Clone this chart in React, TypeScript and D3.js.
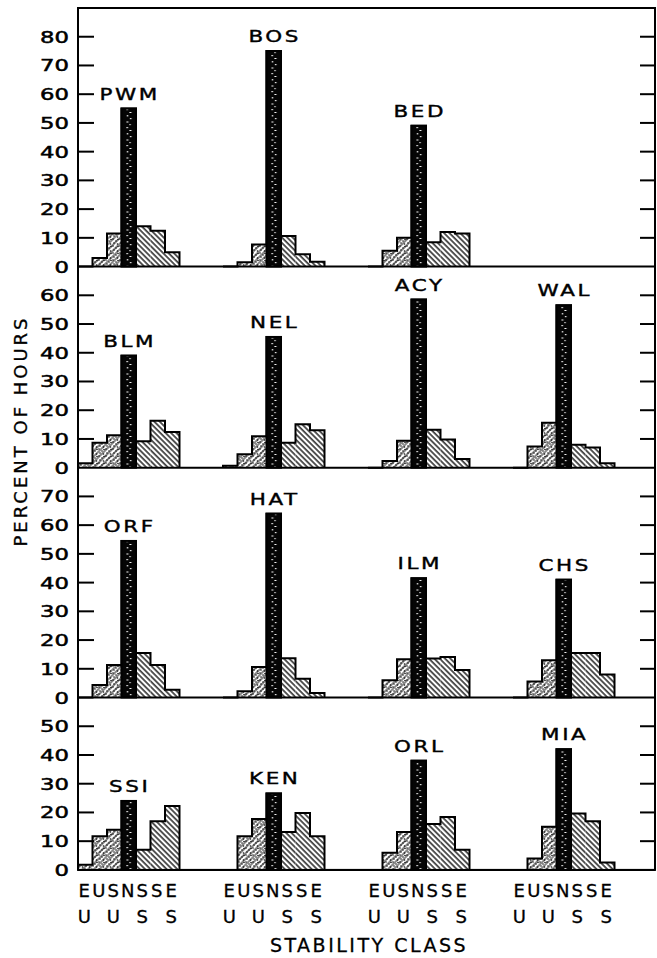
import * as d3 from 'd3';
import { useEffect, useRef } from 'react';

// stability classes, read as two stacked letters under each bar
const CLASSES = ['EU', 'U', 'SU', 'N', 'SS', 'S', 'ES'];

// percent of hours per class, EU..ES
const PWM = [0, 3, 11.5, 55, 14, 12.5, 5];
const BOS = [0, 1.5, 7.7, 75, 10.6, 4.3, 1.7];
const BED = [0, 5.5, 10, 49, 8.5, 12, 11.5];
const BLM = [1.5, 8.7, 11.3, 39, 9.2, 16.3, 12.4];
const NEL = [0.7, 4.7, 10.9, 45.5, 8.7, 15.1, 13];
const ACY = [0, 2.3, 9.4, 58.5, 13.2, 9.8, 3];
const WAL = [0, 7.4, 15.6, 56.5, 8, 7, 1.5];
const ORF = [0, 4.4, 11.3, 54.5, 15.5, 11.3, 2.7];
const HAT = [0, 2.2, 10.6, 64, 13.7, 6.5, 1.6];
const ILM = [0, 6, 13.3, 41.5, 13.6, 14.1, 9.6];
const CHS = [0, 5.6, 13, 41, 15.5, 15.5, 8];
const SSI = [1.8, 11.7, 14, 24, 7, 16.9, 22.2];
const KEN = [0, 11.7, 17.7, 26.6, 13.2, 19.8, 11.7];
const ORL = [0, 6, 13.2, 38, 16, 18.4, 7];
const MIA = [0, 4, 15, 42, 19.6, 16.9, 2.6];

// rows of the figure, top to bottom; position in row = column slot
const ROWS: { name: string; values: number[] }[][] = [
    [{ name: 'PWM', values: PWM }, { name: 'BOS', values: BOS }, { name: 'BED', values: BED }],
    [{ name: 'BLM', values: BLM }, { name: 'NEL', values: NEL }, { name: 'ACY', values: ACY }, { name: 'WAL', values: WAL }],
    [{ name: 'ORF', values: ORF }, { name: 'HAT', values: HAT }, { name: 'ILM', values: ILM }, { name: 'CHS', values: CHS }],
    [{ name: 'SSI', values: SSI }, { name: 'KEN', values: KEN }, { name: 'ORL', values: ORL }, { name: 'MIA', values: MIA }],
];
const ROW_MAX = [90, 70, 80, 60];
const ROW_TICKS = [
    [0, 10, 20, 30, 40, 50, 60, 70, 80],
    [0, 10, 20, 30, 40, 50, 60],
    [0, 10, 20, 30, 40, 50, 60, 70],
    [0, 10, 20, 30, 40, 50],
];

const W = 657;
const H = 958;
const LEFT = 78;
const RIGHT = 655;
const TOP = 8;
const UNIT = 2.873; // px per percent, same in all rows
const SLOTS = 40; // 4 groups x (7 bars + 3 gap)
const SLOT_W = 14.5;
const TICK = 16;
const FONT = '"DejaVu Sans", sans-serif';

// white specks inside the dark N bar (hand placed in one tile)
const SPECKS = [
    [5, 1, 1.5, 1.2], [8, 4, 2, 1], [5.5, 7, 1.2, 1.5], [8.5, 10, 1.5, 1.2],
    [5, 13.5, 2, 1], [8, 16, 1.2, 1.2],
];

export default function App() {
    const svgRef = useRef<SVGSVGElement>(null);

    useEffect(() => {
        if (!svgRef.current) return;
        const svg = d3.select(svgRef.current);
        svg.selectAll('*').remove();

        const xs = d3.scaleLinear().domain([0, SLOTS]).range([LEFT, LEFT + SLOTS * SLOT_W]);

        const defs = svg.append('defs');
        // "/" hatching for unstable side
        const pl = defs.append('pattern').attr('id', 'hatchL').attr('patternUnits', 'userSpaceOnUse')
            .attr('width', 4).attr('height', 4).attr('patternTransform', 'rotate(45)');
        pl.append('rect').attr('width', 4).attr('height', 4).attr('fill', '#fff');
        pl.append('line').attr('x1', 1).attr('x2', 1).attr('y1', 0).attr('y2', 4)
            .attr('stroke', '#111').attr('stroke-width', 1);
        // stipple over it
        const ps = defs.append('pattern').attr('id', 'stipple').attr('patternUnits', 'userSpaceOnUse')
            .attr('width', 7).attr('height', 7);
        [[1, 1], [4, 3], [2, 5], [5.5, 6], [6, 1.5]].forEach(([cx, cy]) =>
            ps.append('circle').attr('cx', cx).attr('cy', cy).attr('r', 0.8).attr('fill', '#111'));
        // "\" hatching for stable side
        const pr = defs.append('pattern').attr('id', 'hatchR').attr('patternUnits', 'userSpaceOnUse')
            .attr('width', 3.8).attr('height', 3.8).attr('patternTransform', 'rotate(-45)');
        pr.append('rect').attr('width', 3.8).attr('height', 3.8).attr('fill', '#fff');
        pr.append('line').attr('x1', 1).attr('x2', 1).attr('y1', 0).attr('y2', 3.8)
            .attr('stroke', '#111').attr('stroke-width', 1.4);
        // dark neutral bar with specks
        const pn = defs.append('pattern').attr('id', 'speck').attr('patternUnits', 'userSpaceOnUse')
            .attr('x', xs(3)).attr('y', 0).attr('width', SLOT_W).attr('height', 18);
        pn.append('rect').attr('width', SLOT_W).attr('height', 18).attr('fill', '#050505');
        SPECKS.forEach(([x, y, w, h]) =>
            pn.append('rect').attr('x', x).attr('y', y).attr('width', w).attr('height', h).attr('fill', '#fff'));

        const line = d3.line();
        let y0 = TOP;

        ROWS.forEach((row, r) => {
            const max = ROW_MAX[r];
            const h = max * UNIT;
            const y = d3.scaleLinear().domain([0, max]).range([y0 + h, y0]);
            const g = svg.append('g');

            row.forEach((st, col) => {
                const s0 = col * 10;
                const bars = g.append('g');
                st.values.forEach((v, i) => {
                    if (i === 3 || v <= 0) return;
                    const rect = () => bars.append('rect')
                        .attr('x', xs(s0 + i)).attr('y', y(v))
                        .attr('width', xs(s0 + i + 1) - xs(s0 + i)).attr('height', y(0) - y(v));
                    if (i < 3) {
                        rect().attr('fill', 'url(#hatchL)');
                        rect().attr('fill', 'url(#stipple)');
                    } else {
                        rect().attr('fill', 'url(#hatchR)');
                    }
                });
                const pts: [number, number][] = [[xs(s0), y(0)]];
                st.values.forEach((v, i) => {
                    pts.push([xs(s0 + i), y(v)]);
                    pts.push([xs(s0 + i + 1), y(v)]);
                });
                pts.push([xs(s0 + 7), y(0)]);
                bars.append('path').attr('d', line(pts)).attr('fill', 'none')
                    .attr('stroke', '#000').attr('stroke-width', 2).attr('stroke-linejoin', 'miter');
                const n = st.values[3];
                bars.append('rect')
                    .attr('x', xs(s0 + 3)).attr('y', y(n))
                    .attr('width', xs(s0 + 4) - xs(s0 + 3)).attr('height', y(0) - y(n))
                    .attr('fill', 'url(#speck)').attr('stroke', '#000').attr('stroke-width', 2);

                bars.append('text')
                    .attr('transform', `translate(${(xs(s0 + 3) + xs(s0 + 4)) / 2 + 1},${y(n) - 9}) scale(1.3,1)`)
                    .attr('text-anchor', 'middle').attr('font-family', FONT).attr('font-size', 16.5)
                    .attr('letter-spacing', 2).attr('fill', '#000')
                    .attr('stroke', '#000').attr('stroke-width', 0.4).text(st.name);
            });

            // ticks both sides
            ROW_TICKS[r].forEach((t) => {
                if (t > 0) {
                    g.append('line').attr('x1', LEFT).attr('x2', LEFT + TICK).attr('y1', y(t)).attr('y2', y(t))
                        .attr('stroke', '#000').attr('stroke-width', 2);
                    g.append('line').attr('x1', RIGHT - TICK + 1).attr('x2', RIGHT).attr('y1', y(t)).attr('y2', y(t))
                        .attr('stroke', '#000').attr('stroke-width', 2);
                }
                g.append('text')
                    .attr('transform', `translate(${LEFT - 9},${y(t) + 6}) scale(1.42,1)`)
                    .attr('text-anchor', 'end').attr('font-family', FONT).attr('font-size', 16)
                    .attr('fill', '#000').attr('stroke', '#000').attr('stroke-width', 0.5).text(t);
            });

            // baseline / divider
            g.append('line').attr('x1', LEFT).attr('x2', RIGHT).attr('y1', y(0)).attr('y2', y(0))
                .attr('stroke', '#000').attr('stroke-width', 2);
            y0 += h;
        });

        // frame
        svg.append('rect').attr('x', LEFT).attr('y', TOP).attr('width', RIGHT - LEFT).attr('height', y0 - TOP)
            .attr('fill', 'none').attr('stroke', '#000').attr('stroke-width', 2);

        // class letters under each group
        for (let col = 0; col < 4; col++) {
            CLASSES.forEach((c, i) => {
                const cx = (xs(col * 10 + i) + xs(col * 10 + i + 1)) / 2 - 1;
                c.split('').forEach((ch, k) => {
                    svg.append('text').attr('x', cx).attr('y', y0 + 27 + k * 26)
                        .attr('text-anchor', 'middle').attr('font-family', FONT).attr('font-size', 18)
                        .attr('fill', '#000').attr('stroke', '#000').attr('stroke-width', 0.3).text(ch);
                });
            });
        }

        svg.append('text').attr('x', 369).attr('y', 952).attr('text-anchor', 'middle')
            .attr('font-family', FONT).attr('font-size', 19).attr('letter-spacing', 2.5)
            .attr('fill', '#000').attr('stroke', '#000').attr('stroke-width', 0.3).text('STABILITY CLASS');

        svg.append('text').attr('transform', 'translate(27,431) rotate(-90)').attr('text-anchor', 'middle')
            .attr('font-family', FONT).attr('font-size', 18).attr('letter-spacing', 3)
            .attr('fill', '#000').attr('stroke', '#000').attr('stroke-width', 0.3).text('PERCENT OF HOURS');
    }, []);

    return (
        <svg
            ref={svgRef}
            width={W}
            height={H}
            style={{ position: 'absolute', left: 0, top: 0, background: '#fff' }}
        ></svg>
    );
}
